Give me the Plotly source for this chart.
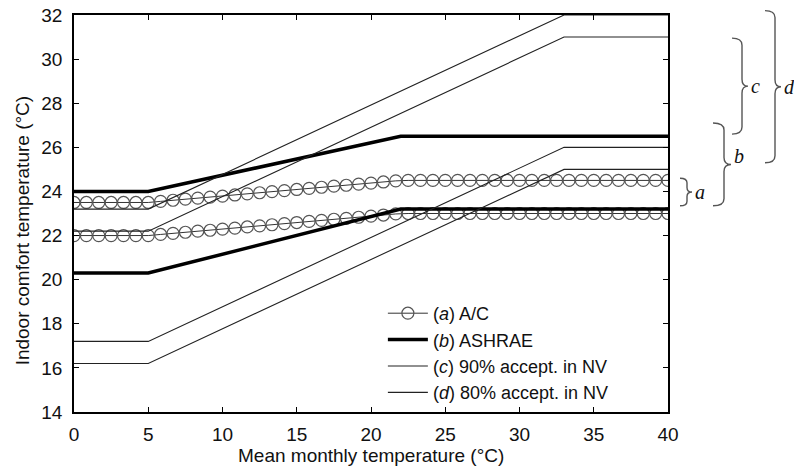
import plotly.graph_objects as go

# Mean monthly outdoor temperature breakpoints (°C)
x_ashrae = [0, 5, 22, 40]
ashrae_upper = [24.0, 24.0, 26.5, 26.5]
ashrae_lower = [20.3, 20.3, 23.2, 23.2]

x_nv = [0, 5, 33, 40]
nv90_upper = [22.2, 22.2, 31.0, 31.0]
nv90_lower = [17.2, 17.2, 26.0, 26.0]
nv80_upper = [23.2, 23.2, 32.0, 32.0]
nv80_lower = [16.2, 16.2, 25.0, 25.0]

# A/C model, sampled every 5/6 °C from 0 to 40 °C
ac_x0, ac_dx = 0, 5 / 6
ac_upper = [23.5, 23.5, 23.5, 23.5, 23.5, 23.5, 23.5, 23.55, 23.6, 23.65,
            23.7, 23.74, 23.79, 23.84, 23.89, 23.94, 23.99, 24.04, 24.09, 24.14,
            24.19, 24.24, 24.28, 24.33, 24.38, 24.43, 24.48, 24.5, 24.5, 24.5,
            24.5, 24.5, 24.5, 24.5, 24.5, 24.5, 24.5, 24.5, 24.5, 24.5,
            24.5, 24.5, 24.5, 24.5, 24.5, 24.5, 24.5, 24.5, 24.5]
ac_lower = [22.0, 22.0, 22.0, 22.0, 22.0, 22.0, 22.0, 22.05, 22.1, 22.15,
            22.2, 22.24, 22.29, 22.34, 22.39, 22.44, 22.49, 22.54, 22.59, 22.64,
            22.69, 22.74, 22.78, 22.83, 22.88, 22.93, 22.98, 23.0, 23.0, 23.0,
            23.0, 23.0, 23.0, 23.0, 23.0, 23.0, 23.0, 23.0, 23.0, 23.0,
            23.0, 23.0, 23.0, 23.0, 23.0, 23.0, 23.0, 23.0, 23.0]

# Brace groups on the right side of the axes
brace_labels = ["a", "b", "c", "d"]
brace_bottom = [23.35, 23.35, 26.6, 25.3]
brace_top = [24.6, 27.1, 30.95, 32.2]

X_RANGE = [0, 40]
Y_RANGE = [14, 32]
FONT = "Liberation Sans, Arial, Helvetica, sans-serif"

fig = go.Figure()

line_thin = dict(color="#222222", width=1.1)
line_thick = dict(color="#000000", width=3.5)
ac_marker = dict(symbol="circle-open", size=12, color="#555555", line=dict(width=1.2))

fig.add_trace(go.Scatter(
    x0=ac_x0, dx=ac_dx, y=ac_upper, mode="lines+markers",
    line=dict(color="#333333", width=1), marker=ac_marker,
    name="(<i>a</i>) A/C", legendgroup="a", showlegend=True,
))
fig.add_trace(go.Scatter(
    x0=ac_x0, dx=ac_dx, y=ac_lower, mode="lines+markers",
    line=dict(color="#333333", width=1), marker=ac_marker,
    name="(<i>a</i>) A/C", legendgroup="a", showlegend=False,
))
fig.add_trace(go.Scatter(x=x_ashrae, y=ashrae_upper, mode="lines", line=line_thick,
                         name="(<i>b</i>) ASHRAE", legendgroup="b"))
fig.add_trace(go.Scatter(x=x_ashrae, y=ashrae_lower, mode="lines", line=line_thick,
                         name="(<i>b</i>) ASHRAE", legendgroup="b", showlegend=False))
fig.add_trace(go.Scatter(x=x_nv, y=nv90_upper, mode="lines", line=line_thin,
                         name="(<i>c</i>) 90% accept. in NV", legendgroup="c"))
fig.add_trace(go.Scatter(x=x_nv, y=nv90_lower, mode="lines", line=line_thin,
                         name="(<i>c</i>) 90% accept. in NV", legendgroup="c", showlegend=False))
fig.add_trace(go.Scatter(x=x_nv, y=nv80_upper, mode="lines", line=line_thin,
                         name="(<i>d</i>) 80% accept. in NV", legendgroup="d"))
fig.add_trace(go.Scatter(x=x_nv, y=nv80_lower, mode="lines", line=line_thin,
                         name="(<i>d</i>) 80% accept. in NV", legendgroup="d", showlegend=False))

# Plot-area geometry in pixels (used to place the braces outside the axes)
W, H = 794, 470
M_L, M_R, M_T, M_B = 74, 126, 15, 58
plot_w = W - M_L - M_R
plot_h = H - M_T - M_B


def y_to_paper(v):
    return (v - Y_RANGE[0]) / (Y_RANGE[1] - Y_RANGE[0])


def px_to_paper_x(px):
    return (px - M_L) / plot_w


brace_left_px = [680, 713, 732, 765]
brace_stem_px = [7, 11, 10, 10]
brace_tip_px = [12, 18, 16, 16]
brace_label_dy = [0, 8, 0, 0]

shapes = []
annotations = []
for lab, lo, hi, left, stem, tip, dy in zip(brace_labels, brace_bottom, brace_top,
                                              brace_left_px, brace_stem_px, brace_tip_px,
                                              brace_label_dy):
    mid = (lo + hi) / 2
    half = (hi - lo) / 2 / (Y_RANGE[1] - Y_RANGE[0]) * plot_h
    r = min(7, half / 3)
    path = (f"M0,{half} Q{stem},{half} {stem},{half - r} "
            f"L{stem},{r} Q{stem},0 {tip},0 "
            f"Q{stem},0 {stem},{-r} "
            f"L{stem},{-(half - r)} Q{stem},{-half} 0,{-half}")
    shapes.append(dict(
        type="path", xref="paper", yref="paper",
        xsizemode="pixel", ysizemode="pixel",
        xanchor=px_to_paper_x(left), yanchor=y_to_paper(mid),
        path=path, line=dict(color="#555555", width=1.4),
    ))
    annotations.append(dict(
        x=px_to_paper_x(left + tip + 1), y=y_to_paper(mid) + dy / plot_h,
        xref="paper", yref="paper",
        text=f"<i>{lab}</i>", showarrow=False, xanchor="left", yanchor="middle",
        font=dict(family="Liberation Serif, Times New Roman, serif", size=20, color="#111111"),
    ))

# Axis titles
annotations.append(dict(
    x=0.5, y=-43 / plot_h, xref="paper", yref="paper", yanchor="middle", xanchor="center",
    text="Mean monthly temperature (°C)", showarrow=False,
    font=dict(family=FONT, size=19, color="#111111"),
))
annotations.append(dict(
    x=-52 / plot_w, y=0.455, xref="paper", yref="paper", textangle=-90,
    xanchor="center", yanchor="middle",
    text="Indoor comfort temperature (°C)", showarrow=False,
    font=dict(family=FONT, size=19, color="#111111"),
))

axis_common = dict(
    showgrid=False, zeroline=False, showline=True, linecolor="#000000", linewidth=1.5,
    mirror="ticks", ticks="inside", ticklen=5, tickwidth=1, tickcolor="#000000",
    tickfont=dict(family=FONT, size=19, color="#111111"), automargin=False,
)

fig.update_layout(
    width=W, height=H,
    margin=dict(l=M_L, r=M_R, t=M_T, b=M_B, autoexpand=False),
    paper_bgcolor="white", plot_bgcolor="white",
    xaxis=dict(range=X_RANGE, dtick=5, tick0=0, ticklabelstandoff=4, **axis_common),
    yaxis=dict(range=Y_RANGE, dtick=2, tick0=14, ticklabelstandoff=6, **axis_common),
    legend=dict(x=0.52, y=(412 - 295) / plot_h, xanchor="left", yanchor="top",
                bgcolor="rgba(0,0,0,0)", borderwidth=0, tracegroupgap=0,
                font=dict(family=FONT, size=18, color="#111111"), itemwidth=40),
    shapes=shapes, annotations=annotations, showlegend=True,
)

fig.write_html("out.html")
